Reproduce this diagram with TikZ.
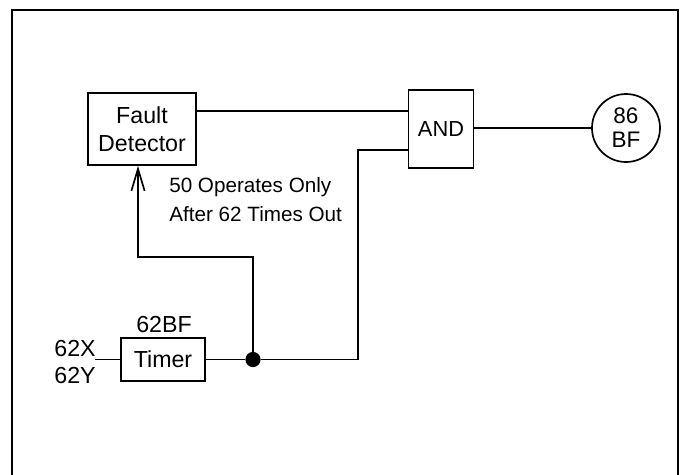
\documentclass[tikz,border=0pt]{standalone}
\usepackage{fontspec}
\setmainfont{Liberation Sans}
\usetikzlibrary{arrows.meta}

\tikzset{
	blockbox/.style={draw, line width=1.2pt, align=center, inner sep=0pt},
	wire/.style={line width=1.2pt},
}

\begin{document}
\begin{tikzpicture}[x=0.025cm, y=-0.025cm, font=\fontsize{16.5}{20}\selectfont]
		\useasboundingbox (0,0) rectangle (680,475);
		\draw[line width=1.4pt] (12,475) -- (12,10) -- (678,10) -- (678,475);
		\begin{scope}
			\node[blockbox, minimum width=2.7cm, minimum height=1.8cm] (fd) at (142,129) {Fault\\Detector};
			\node[blockbox, minimum width=1.625cm, minimum height=1.95cm, font=\fontsize{15.5}{18}\selectfont] (and) at (441,129) {AND};
			\node[blockbox, circle, minimum size=1.7cm, font=\fontsize{16}{17}\selectfont] (relay) at (626,128) {86\\BF};
			\node[blockbox, minimum width=2.1cm, minimum height=1.075cm] (timer) at (163,359.5) {Timer};
			\node[circle, fill, inner sep=0pt, minimum size=0.38cm] (dot) at (253,359.5) {};
			\coordinate (in) at (95,359.5);
			\coordinate (bend) at (358,150);
			\coordinate (fb) at (138,257);
			\foreach \y/\label in {349/X, 376/Y} {
				\node[anchor=east, inner sep=0pt] (lab\label) at (96,\y) {62\label};
			}
			\node (tlab) at (164,325) {62BF};
			\node[anchor=west, align=left, inner sep=0pt, font=\fontsize{14.7}{20.6}\selectfont] (note) at (169,199.5) {50 Operates Only\\After 62 Times Out};
			\draw[wire] ([yshift=0.45cm]fd.east) -- ([yshift=0.45cm]fd.east -| and.west);
			\draw[wire] (and.east |- relay.west) -- (relay.west);
			\draw[wire] (in) -- (timer.west);
			\draw[wire] (timer.east) -- (dot);
			\draw[wire] (dot) -| (bend) -- (bend -| and.west);
			\draw[wire, -{Straight Barb[length=0.55cm, width=0.33cm]}] (dot) |- (fb) -- (fb |- fd.south);
		\end{scope}
		
	\end{tikzpicture}
\end{document}
